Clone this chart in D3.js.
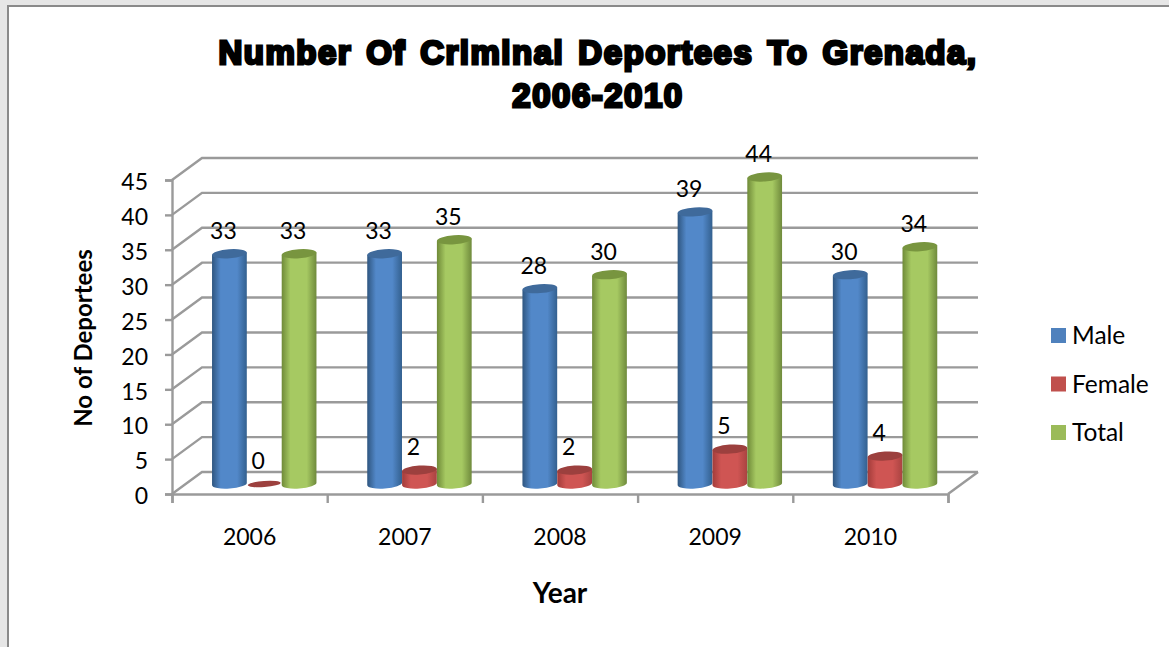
<!DOCTYPE html>
<html>
<head>
<meta charset="utf-8">
<script src="https://d3js.org/d3.v7.min.js"></script>
<style>
    html, body { margin: 0; padding: 0; background: #fff; overflow: hidden; }
    text { font-family: Lato, "Open Sans", sans-serif; fill: #000; }
</style>
</head>
<body>
<div id="chart"></div>
<script>
// Values
const years = ["2006", "2007", "2008", "2009", "2010"];
const seriesNames = ["Male", "Female", "Total"];
const male = [33, 33, 28, 39, 30];
const female = [0, 2, 2, 5, 4];
const total = [33, 35, 30, 44, 34];
const yTicks = [0, 5, 10, 15, 20, 25, 30, 35, 40, 45];
const titleLines = ["Number Of Criminal Deportees To Grenada,", "2006-2010"];

const width = 1169, height = 647;
const seriesValues = [male, female, total];
const palette = [
    { edge: "#2f5680", mid: "#5288c9", end: "#33608f", top: "#3f6a9b", key: "#4f81bd" },
    { edge: "#a23c3a", mid: "#cf5553", end: "#a94341", top: "#9c403e", key: "#c0504d" },
    { edge: "#6f8a38", mid: "#a6c962", end: "#6f8a3c", top: "#78953f", key: "#9bbb59" }
];

// 3D box: back wall is shifted from the front plane by this much
const depthX = 30, depthY = -22;
const barShiftX = 40, barBaseLift = 10;

const svg = d3.select("#chart").append("svg")
    .attr("width", width)
    .attr("height", height);

// Window frame round the chart
svg.append("rect").attr("width", width).attr("height", height).attr("fill", "#e6e6e6");
svg.append("rect")
    .attr("x", 8).attr("y", 6)
    .attr("width", width).attr("height", height)
    .attr("fill", "#fff")
    .attr("stroke", "#8a8a8a")
    .attr("stroke-width", 2);

// Scales
const x0 = d3.scaleBand().domain(years).range([172, 948]);
const x1 = d3.scaleBand().domain(seriesNames).range([0, 104.5]);
const y = d3.scaleLinear().domain([0, 45]).range([494, 180]);

// Gradients for the cylinders
const defs = svg.append("defs");
palette.forEach((c, i) => {
    const g = defs.append("linearGradient").attr("id", "cyl" + i);
    g.append("stop").attr("offset", "0%").attr("stop-color", c.edge);
    g.append("stop").attr("offset", "25%").attr("stop-color", c.mid);
    g.append("stop").attr("offset", "72%").attr("stop-color", c.mid);
    g.append("stop").attr("offset", "100%").attr("stop-color", c.end);
});

// Walls and floor
const axisColor = "#9a9a9a";
const grid = svg.append("g")
    .attr("fill", "none")
    .attr("stroke", axisColor)
    .attr("stroke-width", 2.4);

grid.selectAll(".back")
    .data(yTicks)
    .join("path")
    .attr("class", "back")
    .attr("d", d => `M172,${y(d)}L${172 + depthX},${y(d) + depthY}H${948 + depthX}`);

// Right edge of the floor
grid.append("path")
    .attr("d", `M948,${y(0)}L${948 + depthX},${y(0) + depthY}`);

// Front axes
const yAxis = d3.axisLeft(y).tickValues(yTicks).tickSize(7).tickPadding(17);
const gy = svg.append("g").attr("transform", "translate(172,0)").call(yAxis);

const xEdges = d3.axisBottom(d3.scaleLinear().domain([0, years.length]).range([172, 948]))
    .ticks(years.length)
    .tickSize(9)
    .tickFormat("");
const gx = svg.append("g").attr("transform", `translate(0,${y(0)})`).call(xEdges);

[gx, gy].forEach(g => {
    g.selectAll("path.domain").attr("stroke", axisColor).attr("stroke-width", 2.4);
    g.selectAll(".tick line").attr("stroke", axisColor).attr("stroke-width", 2.4);
});
gy.selectAll(".tick text")
    .attr("dy", "0.42em")
    .style("font-size", "23px")
    .style("font-family", "Lato")
    .attr("fill", "#000");

// Year labels
svg.append("g").selectAll("text")
    .data(years)
    .join("text")
    .attr("x", d => x0(d) + x0.bandwidth() / 2)
    .attr("y", 545)
    .attr("text-anchor", "middle")
    .style("font-size", "23px")
    .text(d => d);

// Cylinders
const rx = x1.bandwidth() / 2, ry = 4.5, tilt = -4;
const rise = rx * Math.sin(-tilt * Math.PI / 180);
const run = rx * Math.cos(tilt * Math.PI / 180);

function cylinderBody(cx, topY, baseY) {
    return `M${cx - run},${topY + rise}L${cx - run},${baseY + rise}`
        + `A${rx},${ry} ${tilt} 0 0 ${cx + run},${baseY - rise}`
        + `L${cx + run},${topY - rise}Z`;
}

seriesNames.forEach((name, s) => {
    const g = svg.append("g").attr("class", "series-" + name);
    seriesValues[s].forEach((v, i) => {
        const cx = x0(years[i]) + barShiftX + x1(name) + rx;
        const baseY = y(0) - barBaseLift;
        const topY = y(v) - barBaseLift;
        if (v > 0) {
            g.append("path")
                .attr("d", cylinderBody(cx, topY, baseY))
                .attr("fill", `url(#cyl${s})`);
        }
        g.append("ellipse")
            .attr("cx", cx)
            .attr("cy", topY)
            .attr("rx", v > 0 ? rx : rx - 1)
            .attr("ry", v > 0 ? ry : 3)
            .attr("transform", `rotate(${tilt} ${cx} ${topY})`)
            .attr("fill", palette[s].top);
    });
});

// Value labels go on top of every bar
seriesNames.forEach((name, s) => {
    svg.append("g").selectAll("text")
        .data(seriesValues[s])
        .join("text")
        .attr("x", (d, i) => x0(years[i]) + barShiftX + x1(name) + rx - 6)
        .attr("y", d => y(d) - barBaseLift - 15)
        .attr("text-anchor", "middle")
        .style("font-size", "23px")
        .text(d => d);
});

// Title
svg.append("g").selectAll("text")
    .data(titleLines)
    .join("text")
    .attr("x", 598)
    .attr("y", (d, i) => 63.5 + i * 43)
    .attr("text-anchor", "middle")
    .style("font-family", "'Liberation Sans', Arial, sans-serif")
    .style("font-size", "33px")
    .style("font-weight", "700")
    .style("letter-spacing", "1.5px")
    .style("word-spacing", "3.5px")
    .style("stroke", "#000")
    .style("stroke-width", "2.8px")
    .text(d => d);

// Axis titles
svg.append("text")
    .attr("x", 560)
    .attr("y", 603)
    .attr("text-anchor", "middle")
    .style("font-size", "28px")
    .style("font-weight", "700")
    .text("Year");

svg.append("text")
    .attr("transform", "translate(92,338) rotate(-90)")
    .attr("text-anchor", "middle")
    .style("font-size", "24px")
    .style("font-weight", "700")
    .text("No of Deportees");

// Legend
const legendY = d3.scalePoint().domain(seriesNames).range([336, 433]);
const legend = svg.append("g").selectAll("g")
    .data(seriesNames)
    .join("g")
    .attr("transform", d => `translate(1051,${legendY(d)})`);

legend.append("rect")
    .attr("y", -8)
    .attr("width", 15)
    .attr("height", 15)
    .attr("fill", (d, i) => palette[i].key);

legend.append("text")
    .attr("x", 21)
    .attr("y", 8)
    .style("font-size", "24.5px")
    .text(d => d);
</script>
</body>
</html>
